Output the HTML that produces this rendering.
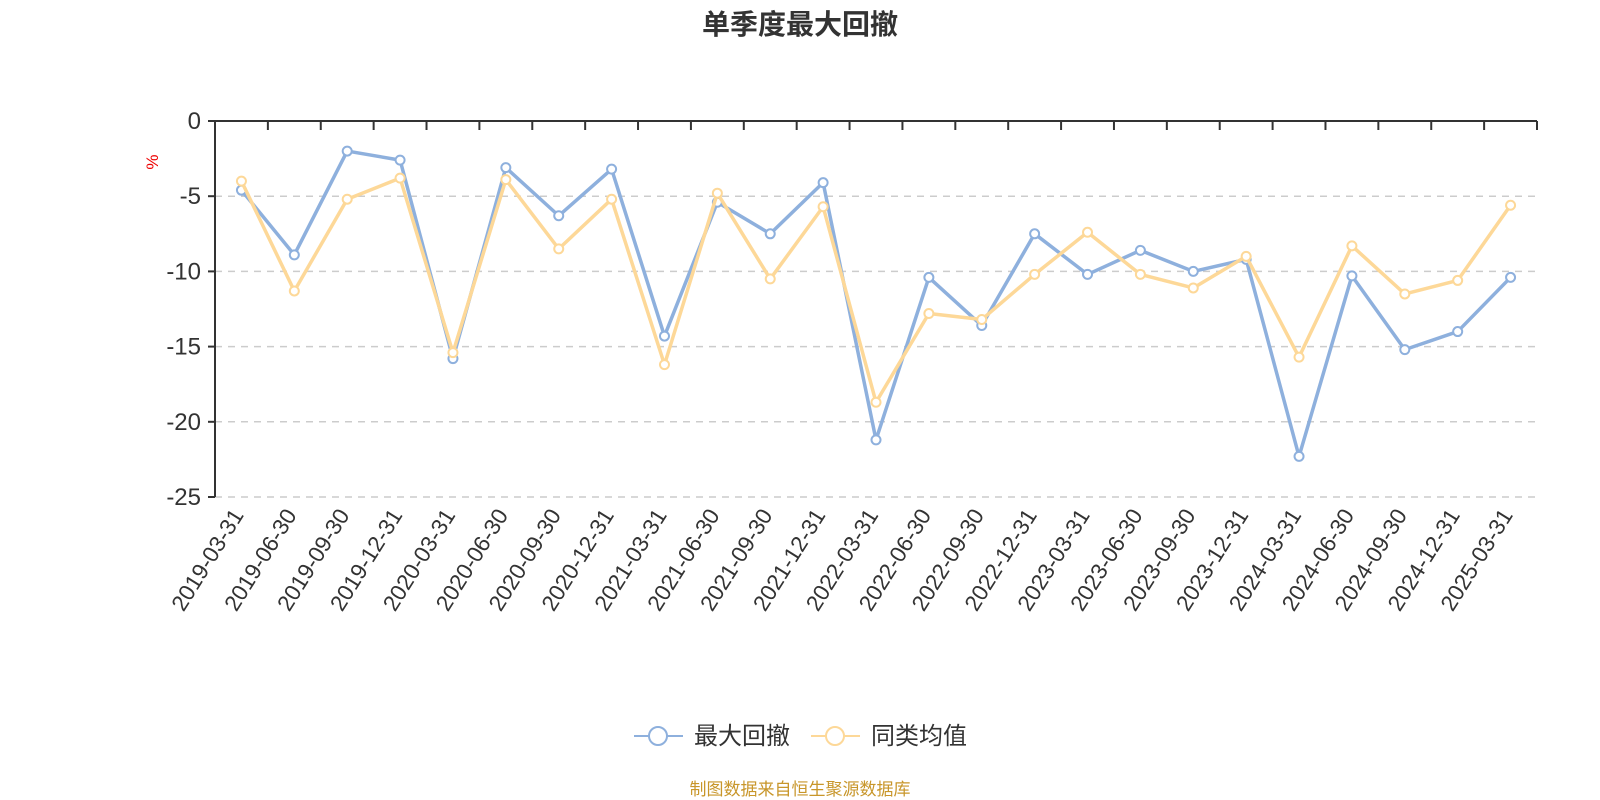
<!DOCTYPE html>
<html><head><meta charset="utf-8"><style>
html,body{margin:0;padding:0;background:#fff;}
svg{display:block;font-family:"Liberation Sans","Noto Sans CJK SC",sans-serif;}
</style></head><body>
<svg id="chart" width="1600" height="800" viewBox="0 0 1600 800">
<text x="800" y="34" text-anchor="middle" font-size="28" font-weight="bold" fill="#333">单季度最大回撤</text>
<text x="0" y="0" transform="translate(158,162) rotate(-90)" text-anchor="middle" font-size="17" fill="#e00">%</text>
<g id="grid"></g>
<g id="axes"></g>
<g id="series"></g>
<g>
<g>
<line x1="634" y1="736" x2="683" y2="736" stroke="#8eb0dd" stroke-width="2"/>
<circle cx="658" cy="736" r="9" fill="#fff" stroke="#8eb0dd" stroke-width="2"/>
<text x="694" y="744" font-size="24" fill="#333">最大回撤</text>
</g>
<g>
<line x1="811" y1="736" x2="860" y2="736" stroke="#fdd898" stroke-width="2"/>
<circle cx="835" cy="736" r="9" fill="#fff" stroke="#fdd898" stroke-width="2"/>
<text x="871" y="744" font-size="24" fill="#333">同类均值</text>
</g>
</g>
<text x="800" y="795" text-anchor="middle" font-size="17" fill="#c8962a">制图数据来自恒生聚源数据库</text>
</svg>
<script>
const categories = ["2019-03-31","2019-06-30","2019-09-30","2019-12-31","2020-03-31","2020-06-30","2020-09-30","2020-12-31","2021-03-31","2021-06-30","2021-09-30","2021-12-31","2022-03-31","2022-06-30","2022-09-30","2022-12-31","2023-03-31","2023-06-30","2023-09-30","2023-12-31","2024-03-31","2024-06-30","2024-09-30","2024-12-31","2025-03-31"];
const maxDrawdown = [-4.6,-8.9,-2.0,-2.6,-15.8,-3.1,-6.3,-3.2,-14.3,-5.4,-7.5,-4.1,-21.2,-10.4,-13.6,-7.5,-10.2,-8.6,-10.0,-9.2,-22.3,-10.3,-15.2,-14.0,-10.4];
const categoryAvg = [-4.0,-11.3,-5.2,-3.8,-15.4,-3.9,-8.5,-5.2,-16.2,-4.8,-10.5,-5.7,-18.7,-12.8,-13.2,-10.2,-7.4,-10.2,-11.1,-9.0,-15.7,-8.3,-11.5,-10.6,-5.6];
const yTicks = [0,-5,-10,-15,-20,-25];

const NS="http://www.w3.org/2000/svg";
const X0=215,X1=1537,Y0=121,Y1=497,YMIN=-25,YMAX=0;
const band=(X1-X0)/categories.length;
function xPos(i){return X0+band*(i+0.5);}
function yPos(v){return Y0+(YMAX-v)/(YMAX-YMIN)*(Y1-Y0);}
function mk(tag,attrs,parent){const e=document.createElementNS(NS,tag);for(const k in attrs)e.setAttribute(k,attrs[k]);parent.appendChild(e);return e;}
const grid=document.getElementById('grid'),axes=document.getElementById('axes'),series=document.getElementById('series');

yTicks.forEach(t=>{
  const y=yPos(t);
  if(t!==0){const g=mk('line',{x1:X0,x2:X1,y1:y,y2:y,stroke:'#ccc','stroke-width':1.5,'stroke-dasharray':'7,6'},grid);
  
  }
  const tk=mk('line',{x1:X0-7,x2:X0,y1:y,y2:y,stroke:'#333','stroke-width':2},axes);
  
  
  const lb=mk('text',{x:X0-14,y:y+8,'text-anchor':'end','font-size':24,fill:'#333'},axes);
  lb.textContent=t;
  
  
});
const ya=mk('line',{x1:X0,x2:X0,y1:Y0,y2:Y1,stroke:'#333','stroke-width':2},axes);


const xa=mk('line',{x1:X0,x2:X1,y1:Y0,y2:Y0,stroke:'#333','stroke-width':2},axes);


for(let i=0;i<=categories.length;i++){
  const x=X0+band*i;
  const tk=mk('line',{x1:x,x2:x,y1:Y0,y2:Y0+9,stroke:'#333','stroke-width':2},axes);
  
  
}
categories.forEach((c,i)=>{
  const x=xPos(i)+3,y=Y1+18;
  const lb=mk('text',{x:0,y:0,transform:`translate(${x},${y}) rotate(-58)`,'text-anchor':'end','font-size':22.5,fill:'#333'},axes);
  lb.textContent=c;
  
  
});
function drawSeries(vals,color,name){
  const g=mk('g',{},series);
  
  
  const pts=vals.map((v,i)=>xPos(i)+','+yPos(v)).join(' ');
  const pl=mk('polyline',{points:pts,fill:'none',stroke:color,'stroke-width':3.5,'stroke-linejoin':'round'},g);
  
  
  vals.forEach((v,i)=>{
    const c=mk('circle',{cx:xPos(i),cy:yPos(v),r:4.5,fill:'#fff',stroke:color,'stroke-width':2},g);
    
    
  });
}
drawSeries(maxDrawdown,'#8eb0dd','series-max-drawdown');
drawSeries(categoryAvg,'#fdd898','series-category-average');
</script>
</body></html>
